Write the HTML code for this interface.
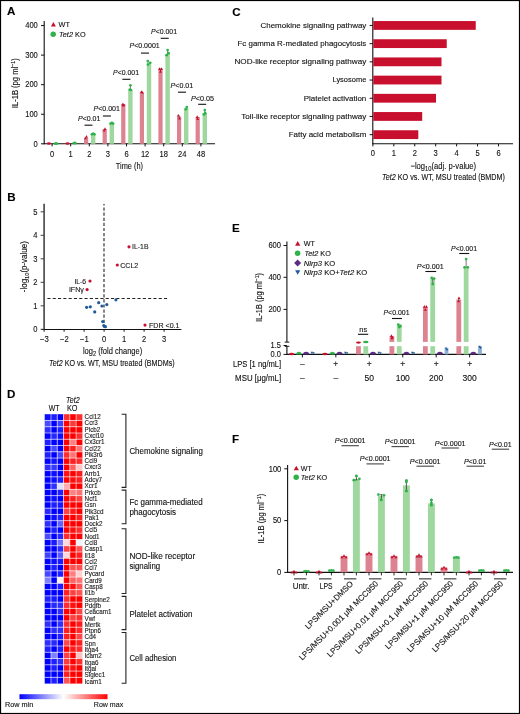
<!DOCTYPE html>
<html><head><meta charset="utf-8"><style>html,body{margin:0;padding:0;background:#fff;}svg{display:block;filter:blur(0.3px);} text{font-family:"Liberation Sans", sans-serif;stroke:#111;stroke-width:0.12px;}</style></head><body>
<svg width="520" height="714" viewBox="0 0 520 714" font-family='"Liberation Sans", sans-serif'>
<rect x="0.00" y="0.00" width="520.00" height="714.00" fill="#fff" />
<text x="6.90" y="15.30" font-size="11.6" text-anchor="start" fill="#000" style="font-weight:bold">A</text>
<text x="232.20" y="15.60" font-size="11.6" text-anchor="start" fill="#000" style="font-weight:bold">C</text>
<text x="7.30" y="200.90" font-size="11.6" text-anchor="start" fill="#000" style="font-weight:bold">B</text>
<text x="232.00" y="232.40" font-size="11.6" text-anchor="start" fill="#000" style="font-weight:bold">E</text>
<text x="6.90" y="398.20" font-size="11.6" text-anchor="start" fill="#000" style="font-weight:bold">D</text>
<text x="232.00" y="443.20" font-size="11.6" text-anchor="start" fill="#000" style="font-weight:bold">F</text>
<line x1="44.20" y1="21.00" x2="44.20" y2="144.30" stroke="#111" stroke-width="1.1" />
<line x1="43.70" y1="143.80" x2="215.00" y2="143.80" stroke="#111" stroke-width="1.1" />
<line x1="41.00" y1="143.80" x2="44.20" y2="143.80" stroke="#111" stroke-width="1.0" />
<text x="37.80" y="146.55" font-size="8.5" text-anchor="end" fill="#111" textLength="4.20" lengthAdjust="spacingAndGlyphs">0</text>
<line x1="41.00" y1="114.24" x2="44.20" y2="114.24" stroke="#111" stroke-width="1.0" />
<text x="37.80" y="116.99" font-size="8.5" text-anchor="end" fill="#111" textLength="12.60" lengthAdjust="spacingAndGlyphs">100</text>
<line x1="41.00" y1="84.68" x2="44.20" y2="84.68" stroke="#111" stroke-width="1.0" />
<text x="37.80" y="87.43" font-size="8.5" text-anchor="end" fill="#111" textLength="12.60" lengthAdjust="spacingAndGlyphs">200</text>
<line x1="41.00" y1="55.12" x2="44.20" y2="55.12" stroke="#111" stroke-width="1.0" />
<text x="37.80" y="57.87" font-size="8.5" text-anchor="end" fill="#111" textLength="12.60" lengthAdjust="spacingAndGlyphs">300</text>
<line x1="41.00" y1="25.56" x2="44.20" y2="25.56" stroke="#111" stroke-width="1.0" />
<text x="37.80" y="28.31" font-size="8.5" text-anchor="end" fill="#111" textLength="12.60" lengthAdjust="spacingAndGlyphs">400</text>
<line x1="52.10" y1="143.80" x2="52.10" y2="146.40" stroke="#111" stroke-width="1.0" />
<text x="52.10" y="156.50" font-size="8.5" text-anchor="middle" fill="#111" textLength="4.20" lengthAdjust="spacingAndGlyphs">0</text>
<ellipse cx="48.90" cy="143.50" rx="2.0" ry="1.3" fill="#c8102e"/>
<ellipse cx="56.00" cy="143.40" rx="2.2" ry="1.5" fill="#2fb24a"/>
<line x1="70.70" y1="143.80" x2="70.70" y2="146.40" stroke="#111" stroke-width="1.0" />
<text x="70.70" y="156.50" font-size="8.5" text-anchor="middle" fill="#111" textLength="4.20" lengthAdjust="spacingAndGlyphs">1</text>
<ellipse cx="67.50" cy="143.50" rx="2.0" ry="1.3" fill="#c8102e"/>
<ellipse cx="74.60" cy="143.10" rx="2.2" ry="1.5" fill="#2fb24a"/>
<line x1="89.30" y1="143.80" x2="89.30" y2="146.40" stroke="#111" stroke-width="1.0" />
<text x="89.30" y="156.50" font-size="8.5" text-anchor="middle" fill="#111" textLength="4.20" lengthAdjust="spacingAndGlyphs">2</text>
<rect x="84.00" y="137.70" width="4.20" height="6.10" fill="#dd8291" />
<rect x="91.00" y="134.20" width="4.40" height="9.60" fill="#9fd89f" />
<polygon points="85.05,137.71 87.95,137.71 86.50,135.09" fill="#c8102e"/>
<polygon points="84.05,139.31 86.95,139.31 85.50,136.69" fill="#c8102e"/>
<circle cx="91.90" cy="134.30" r="1.35" fill="#2fb24a"/>
<circle cx="93.20" cy="133.60" r="1.35" fill="#2fb24a"/>
<circle cx="94.50" cy="134.30" r="1.35" fill="#2fb24a"/>
<line x1="107.90" y1="143.80" x2="107.90" y2="146.40" stroke="#111" stroke-width="1.0" />
<text x="107.90" y="156.50" font-size="8.5" text-anchor="middle" fill="#111" textLength="4.20" lengthAdjust="spacingAndGlyphs">3</text>
<rect x="102.60" y="129.00" width="4.20" height="14.80" fill="#dd8291" />
<rect x="109.60" y="123.80" width="4.40" height="20.00" fill="#9fd89f" />
<polygon points="103.55,129.91 106.45,129.91 105.00,127.29" fill="#c8102e"/>
<polygon points="102.75,131.61 105.65,131.61 104.20,129.00" fill="#c8102e"/>
<circle cx="110.50" cy="123.60" r="1.35" fill="#2fb24a"/>
<circle cx="111.80" cy="122.90" r="1.35" fill="#2fb24a"/>
<circle cx="113.10" cy="123.60" r="1.35" fill="#2fb24a"/>
<line x1="126.50" y1="143.80" x2="126.50" y2="146.40" stroke="#111" stroke-width="1.0" />
<text x="126.50" y="156.50" font-size="8.5" text-anchor="middle" fill="#111" textLength="4.20" lengthAdjust="spacingAndGlyphs">6</text>
<rect x="121.20" y="104.20" width="4.20" height="39.60" fill="#dd8291" />
<rect x="128.20" y="89.80" width="4.40" height="54.00" fill="#9fd89f" />
<line x1="130.40" y1="85.30" x2="130.40" y2="90.00" stroke="#444" stroke-width="0.7" />
<polygon points="121.35,105.31 124.25,105.31 122.80,102.69" fill="#c8102e"/>
<polygon points="122.35,105.91 125.25,105.91 123.80,103.29" fill="#c8102e"/>
<polygon points="121.85,106.61 124.75,106.61 123.30,103.99" fill="#c8102e"/>
<circle cx="130.40" cy="85.30" r="1.35" fill="#2fb24a"/>
<circle cx="129.80" cy="89.60" r="1.35" fill="#2fb24a"/>
<circle cx="131.00" cy="90.00" r="1.35" fill="#2fb24a"/>
<line x1="145.10" y1="143.80" x2="145.10" y2="146.40" stroke="#111" stroke-width="1.0" />
<text x="145.10" y="156.50" font-size="8.5" text-anchor="middle" fill="#111" textLength="8.40" lengthAdjust="spacingAndGlyphs">12</text>
<rect x="139.80" y="92.70" width="4.20" height="51.10" fill="#dd8291" />
<rect x="146.80" y="62.10" width="4.40" height="81.70" fill="#9fd89f" />
<polygon points="139.95,92.91 142.85,92.91 141.40,90.29" fill="#c8102e"/>
<polygon points="140.95,93.51 143.85,93.51 142.40,90.89" fill="#c8102e"/>
<circle cx="147.80" cy="61.00" r="1.35" fill="#2fb24a"/>
<circle cx="150.20" cy="62.80" r="1.35" fill="#2fb24a"/>
<circle cx="148.00" cy="64.60" r="1.35" fill="#2fb24a"/>
<line x1="163.70" y1="143.80" x2="163.70" y2="146.40" stroke="#111" stroke-width="1.0" />
<text x="163.70" y="156.50" font-size="8.5" text-anchor="middle" fill="#111" textLength="8.40" lengthAdjust="spacingAndGlyphs">18</text>
<rect x="158.40" y="69.00" width="4.20" height="74.80" fill="#dd8291" />
<rect x="165.40" y="54.00" width="4.40" height="89.80" fill="#9fd89f" />
<line x1="160.50" y1="68.60" x2="160.50" y2="71.40" stroke="#333" stroke-width="0.7" />
<line x1="167.60" y1="50.00" x2="167.60" y2="55.00" stroke="#444" stroke-width="0.7" />
<polygon points="158.05,69.91 160.95,69.91 159.50,67.29" fill="#c8102e"/>
<polygon points="160.05,69.91 162.95,69.91 161.50,67.29" fill="#c8102e"/>
<polygon points="159.05,72.71 161.95,72.71 160.50,70.09" fill="#c8102e"/>
<circle cx="167.60" cy="50.00" r="1.35" fill="#2fb24a"/>
<circle cx="168.60" cy="53.20" r="1.35" fill="#2fb24a"/>
<circle cx="166.60" cy="55.20" r="1.35" fill="#2fb24a"/>
<line x1="182.30" y1="143.80" x2="182.30" y2="146.40" stroke="#111" stroke-width="1.0" />
<text x="182.30" y="156.50" font-size="8.5" text-anchor="middle" fill="#111" textLength="8.40" lengthAdjust="spacingAndGlyphs">24</text>
<rect x="177.00" y="116.50" width="4.20" height="27.30" fill="#dd8291" />
<rect x="184.00" y="108.00" width="4.40" height="35.80" fill="#9fd89f" />
<line x1="179.10" y1="115.30" x2="179.10" y2="118.20" stroke="#333" stroke-width="0.7" />
<polygon points="176.85,116.61 179.75,116.61 178.30,113.99" fill="#c8102e"/>
<polygon points="178.05,119.51 180.95,119.51 179.50,116.89" fill="#c8102e"/>
<circle cx="186.80" cy="107.10" r="1.35" fill="#2fb24a"/>
<circle cx="185.90" cy="109.30" r="1.35" fill="#2fb24a"/>
<line x1="200.90" y1="143.80" x2="200.90" y2="146.40" stroke="#111" stroke-width="1.0" />
<text x="200.90" y="156.50" font-size="8.5" text-anchor="middle" fill="#111" textLength="8.40" lengthAdjust="spacingAndGlyphs">48</text>
<rect x="195.60" y="117.00" width="4.20" height="26.80" fill="#dd8291" />
<rect x="202.60" y="113.00" width="4.40" height="30.80" fill="#9fd89f" />
<line x1="204.80" y1="110.10" x2="204.80" y2="114.00" stroke="#444" stroke-width="0.7" />
<polygon points="195.75,117.91 198.65,117.91 197.20,115.29" fill="#c8102e"/>
<polygon points="196.25,119.91 199.15,119.91 197.70,117.29" fill="#c8102e"/>
<circle cx="204.80" cy="110.10" r="1.35" fill="#2fb24a"/>
<circle cx="205.20" cy="113.20" r="1.35" fill="#2fb24a"/>
<circle cx="203.90" cy="114.40" r="1.35" fill="#2fb24a"/>
<text x="129.40" y="169.30" font-size="9.8" text-anchor="middle" fill="#111" textLength="27.20" lengthAdjust="spacingAndGlyphs">Time (h)</text>
<text transform="translate(18.0,83.2) rotate(-90)" font-size="8.8" text-anchor="middle" fill="#111" textLength="50" lengthAdjust="spacingAndGlyphs">IL-1B (pg ml<tspan font-size="6.2" dy="-3.2">−1</tspan><tspan dy="3.2">)</tspan></text>
<text x="89.20" y="121.00" font-size="7.7" text-anchor="middle" fill="#111" textLength="22.50" lengthAdjust="spacingAndGlyphs"><tspan font-style="italic">P</tspan>&lt;0.01</text>
<line x1="84.50" y1="125.20" x2="92.50" y2="125.20" stroke="#111" stroke-width="1.1" />
<text x="106.70" y="111.40" font-size="7.7" text-anchor="middle" fill="#111" textLength="26.50" lengthAdjust="spacingAndGlyphs"><tspan font-style="italic">P</tspan>&lt;0.001</text>
<line x1="102.90" y1="116.00" x2="110.90" y2="116.00" stroke="#111" stroke-width="1.1" />
<text x="126.00" y="74.60" font-size="7.7" text-anchor="middle" fill="#111" textLength="26.00" lengthAdjust="spacingAndGlyphs"><tspan font-style="italic">P</tspan>&lt;0.001</text>
<line x1="122.40" y1="79.30" x2="130.40" y2="79.30" stroke="#111" stroke-width="1.1" />
<text x="144.60" y="48.00" font-size="7.7" text-anchor="middle" fill="#111" textLength="30.30" lengthAdjust="spacingAndGlyphs"><tspan font-style="italic">P</tspan>&lt;0.0001</text>
<line x1="141.00" y1="53.10" x2="149.00" y2="53.10" stroke="#111" stroke-width="1.1" />
<text x="164.00" y="34.00" font-size="7.7" text-anchor="middle" fill="#111" textLength="26.00" lengthAdjust="spacingAndGlyphs"><tspan font-style="italic">P</tspan>&lt;0.001</text>
<line x1="160.70" y1="38.30" x2="168.70" y2="38.30" stroke="#111" stroke-width="1.1" />
<text x="181.90" y="87.50" font-size="7.7" text-anchor="middle" fill="#111" textLength="22.80" lengthAdjust="spacingAndGlyphs"><tspan font-style="italic">P</tspan>&lt;0.01</text>
<line x1="178.00" y1="92.20" x2="186.00" y2="92.20" stroke="#111" stroke-width="1.1" />
<text x="202.50" y="100.70" font-size="7.7" text-anchor="middle" fill="#111" textLength="23.00" lengthAdjust="spacingAndGlyphs"><tspan font-style="italic">P</tspan>&lt;0.05</text>
<line x1="198.20" y1="104.30" x2="206.20" y2="104.30" stroke="#111" stroke-width="1.1" />
<polygon points="50.90,26.45 55.90,26.45 53.40,21.95" fill="#c8102e"/>
<text x="58.60" y="27.30" font-size="7.4" text-anchor="start" fill="#111" textLength="11.40" lengthAdjust="spacingAndGlyphs">WT</text>
<circle cx="53.20" cy="34.20" r="2.70" fill="#2fb24a"/>
<text x="59.0" y="36.9" font-size="7.4" fill="#111" textLength="26.6" lengthAdjust="spacingAndGlyphs"><tspan font-style="italic">Tet2</tspan> KO</text>
<line x1="372.80" y1="17.50" x2="372.80" y2="144.30" stroke="#111" stroke-width="1.1" />
<line x1="372.30" y1="143.80" x2="513.00" y2="143.80" stroke="#111" stroke-width="1.1" />
<rect x="373.30" y="21.05" width="102.45" height="8.80" fill="#c8102e" />
<line x1="369.60" y1="25.45" x2="372.80" y2="25.45" stroke="#111" stroke-width="1.0" />
<text x="366.30" y="27.75" font-size="8.1" text-anchor="end" fill="#111" textLength="105.80" lengthAdjust="spacingAndGlyphs">Chemokine signaling pathway</text>
<rect x="373.30" y="39.25" width="73.45" height="8.80" fill="#c8102e" />
<line x1="369.60" y1="43.65" x2="372.80" y2="43.65" stroke="#111" stroke-width="1.0" />
<text x="366.30" y="45.95" font-size="8.1" text-anchor="end" fill="#111" textLength="128.80" lengthAdjust="spacingAndGlyphs">Fc gamma R-mediated phagocytosis</text>
<rect x="373.30" y="57.45" width="68.20" height="8.80" fill="#c8102e" />
<line x1="369.60" y1="61.85" x2="372.80" y2="61.85" stroke="#111" stroke-width="1.0" />
<text x="366.30" y="64.15" font-size="8.1" text-anchor="end" fill="#111" textLength="131.80" lengthAdjust="spacingAndGlyphs">NOD-like receptor signaling pathway</text>
<rect x="373.30" y="75.65" width="68.20" height="8.80" fill="#c8102e" />
<line x1="369.60" y1="80.05" x2="372.80" y2="80.05" stroke="#111" stroke-width="1.0" />
<text x="366.30" y="82.35" font-size="8.1" text-anchor="end" fill="#111" textLength="33.80" lengthAdjust="spacingAndGlyphs">Lysosome</text>
<rect x="373.30" y="93.85" width="62.70" height="8.80" fill="#c8102e" />
<line x1="369.60" y1="98.25" x2="372.80" y2="98.25" stroke="#111" stroke-width="1.0" />
<text x="366.30" y="100.55" font-size="8.1" text-anchor="end" fill="#111" textLength="62.55" lengthAdjust="spacingAndGlyphs">Platelet activation</text>
<rect x="373.30" y="112.05" width="48.90" height="8.80" fill="#c8102e" />
<line x1="369.60" y1="116.45" x2="372.80" y2="116.45" stroke="#111" stroke-width="1.0" />
<text x="366.30" y="118.75" font-size="8.1" text-anchor="end" fill="#111" textLength="125.05" lengthAdjust="spacingAndGlyphs">Toll-like receptor signaling pathway</text>
<rect x="373.30" y="130.25" width="45.00" height="8.80" fill="#c8102e" />
<line x1="369.60" y1="134.65" x2="372.80" y2="134.65" stroke="#111" stroke-width="1.0" />
<text x="366.30" y="136.95" font-size="8.1" text-anchor="end" fill="#111" textLength="77.55" lengthAdjust="spacingAndGlyphs">Fatty acid metabolism</text>
<line x1="372.90" y1="143.80" x2="372.90" y2="146.40" stroke="#111" stroke-width="1.0" />
<text x="372.90" y="155.90" font-size="8.5" text-anchor="middle" fill="#111" textLength="4.20" lengthAdjust="spacingAndGlyphs">0</text>
<line x1="393.83" y1="143.80" x2="393.83" y2="146.40" stroke="#111" stroke-width="1.0" />
<text x="393.83" y="155.90" font-size="8.5" text-anchor="middle" fill="#111" textLength="4.20" lengthAdjust="spacingAndGlyphs">1</text>
<line x1="414.76" y1="143.80" x2="414.76" y2="146.40" stroke="#111" stroke-width="1.0" />
<text x="414.76" y="155.90" font-size="8.5" text-anchor="middle" fill="#111" textLength="4.20" lengthAdjust="spacingAndGlyphs">2</text>
<line x1="435.69" y1="143.80" x2="435.69" y2="146.40" stroke="#111" stroke-width="1.0" />
<text x="435.69" y="155.90" font-size="8.5" text-anchor="middle" fill="#111" textLength="4.20" lengthAdjust="spacingAndGlyphs">3</text>
<line x1="456.62" y1="143.80" x2="456.62" y2="146.40" stroke="#111" stroke-width="1.0" />
<text x="456.62" y="155.90" font-size="8.5" text-anchor="middle" fill="#111" textLength="4.20" lengthAdjust="spacingAndGlyphs">4</text>
<line x1="477.55" y1="143.80" x2="477.55" y2="146.40" stroke="#111" stroke-width="1.0" />
<text x="477.55" y="155.90" font-size="8.5" text-anchor="middle" fill="#111" textLength="4.20" lengthAdjust="spacingAndGlyphs">5</text>
<line x1="498.48" y1="143.80" x2="498.48" y2="146.40" stroke="#111" stroke-width="1.0" />
<text x="498.48" y="155.90" font-size="8.5" text-anchor="middle" fill="#111" textLength="4.20" lengthAdjust="spacingAndGlyphs">6</text>
<text x="443.3" y="168.8" font-size="9.0" text-anchor="middle" fill="#111" textLength="65.7" lengthAdjust="spacingAndGlyphs">−log<tspan font-size="6.8" dy="2">10</tspan><tspan dy="-2">(adj. p-value)</tspan></text>
<text x="443.5" y="179.9" font-size="9.1" text-anchor="middle" fill="#111" textLength="122.9" lengthAdjust="spacingAndGlyphs"><tspan font-style="italic">Tet2</tspan> KO vs. WT, MSU treated (BMDM)</text>
<line x1="44.10" y1="203.80" x2="44.10" y2="329.80" stroke="#444" stroke-width="1.6" />
<line x1="41.20" y1="329.50" x2="181.40" y2="329.50" stroke="#111" stroke-width="1.1" />
<line x1="40.60" y1="329.30" x2="44.10" y2="329.30" stroke="#444" stroke-width="1.0" />
<text x="37.40" y="332.05" font-size="8.5" text-anchor="end" fill="#111" textLength="4.20" lengthAdjust="spacingAndGlyphs">0</text>
<line x1="40.60" y1="305.80" x2="44.10" y2="305.80" stroke="#444" stroke-width="1.0" />
<text x="37.40" y="308.55" font-size="8.5" text-anchor="end" fill="#111" textLength="4.20" lengthAdjust="spacingAndGlyphs">1</text>
<line x1="40.60" y1="282.30" x2="44.10" y2="282.30" stroke="#444" stroke-width="1.0" />
<text x="37.40" y="285.05" font-size="8.5" text-anchor="end" fill="#111" textLength="4.20" lengthAdjust="spacingAndGlyphs">2</text>
<line x1="40.60" y1="258.80" x2="44.10" y2="258.80" stroke="#444" stroke-width="1.0" />
<text x="37.40" y="261.55" font-size="8.5" text-anchor="end" fill="#111" textLength="4.20" lengthAdjust="spacingAndGlyphs">3</text>
<line x1="40.60" y1="235.30" x2="44.10" y2="235.30" stroke="#444" stroke-width="1.0" />
<text x="37.40" y="238.05" font-size="8.5" text-anchor="end" fill="#111" textLength="4.20" lengthAdjust="spacingAndGlyphs">4</text>
<line x1="40.60" y1="211.80" x2="44.10" y2="211.80" stroke="#444" stroke-width="1.0" />
<text x="37.40" y="214.55" font-size="8.5" text-anchor="end" fill="#111" textLength="4.20" lengthAdjust="spacingAndGlyphs">5</text>
<line x1="44.10" y1="329.30" x2="44.10" y2="331.70" stroke="#111" stroke-width="1.0" />
<text x="44.30" y="342.20" font-size="8.5" text-anchor="middle" fill="#111" textLength="8.80" lengthAdjust="spacingAndGlyphs">−3</text>
<line x1="64.10" y1="329.30" x2="64.10" y2="331.70" stroke="#111" stroke-width="1.0" />
<text x="64.30" y="342.20" font-size="8.5" text-anchor="middle" fill="#111" textLength="8.80" lengthAdjust="spacingAndGlyphs">−2</text>
<line x1="84.10" y1="329.30" x2="84.10" y2="331.70" stroke="#111" stroke-width="1.0" />
<text x="84.30" y="342.20" font-size="8.5" text-anchor="middle" fill="#111" textLength="8.80" lengthAdjust="spacingAndGlyphs">−1</text>
<line x1="104.10" y1="329.30" x2="104.10" y2="331.70" stroke="#111" stroke-width="1.0" />
<text x="104.10" y="342.20" font-size="8.5" text-anchor="middle" fill="#111" textLength="4.20" lengthAdjust="spacingAndGlyphs">0</text>
<line x1="124.10" y1="329.30" x2="124.10" y2="331.70" stroke="#111" stroke-width="1.0" />
<text x="124.10" y="342.20" font-size="8.5" text-anchor="middle" fill="#111" textLength="4.20" lengthAdjust="spacingAndGlyphs">1</text>
<line x1="144.10" y1="329.30" x2="144.10" y2="331.70" stroke="#111" stroke-width="1.0" />
<text x="144.10" y="342.20" font-size="8.5" text-anchor="middle" fill="#111" textLength="4.20" lengthAdjust="spacingAndGlyphs">2</text>
<line x1="164.10" y1="329.30" x2="164.10" y2="331.70" stroke="#111" stroke-width="1.0" />
<text x="164.10" y="342.20" font-size="8.5" text-anchor="middle" fill="#111" textLength="4.20" lengthAdjust="spacingAndGlyphs">3</text>
<line x1="104.00" y1="203.90" x2="104.00" y2="329.30" stroke="#222" stroke-width="1.1" stroke-dasharray="3.2 1.9" stroke-dashoffset="1.5"/>
<line x1="47.40" y1="298.50" x2="168.70" y2="298.50" stroke="#222" stroke-width="1.1" stroke-dasharray="3.1 2.2"/>
<circle cx="129.00" cy="246.80" r="1.60" fill="#c8102e"/>
<circle cx="117.30" cy="265.00" r="1.60" fill="#c8102e"/>
<circle cx="90.00" cy="281.00" r="1.60" fill="#c8102e"/>
<circle cx="87.10" cy="289.60" r="1.60" fill="#c8102e"/>
<circle cx="145.00" cy="325.10" r="1.60" fill="#c8102e"/>
<circle cx="86.60" cy="307.30" r="1.60" fill="#1f5b98"/>
<circle cx="90.30" cy="306.80" r="1.60" fill="#1f5b98"/>
<circle cx="94.70" cy="311.90" r="1.60" fill="#1f5b98"/>
<circle cx="98.70" cy="302.70" r="1.60" fill="#1f5b98"/>
<circle cx="101.90" cy="306.00" r="1.60" fill="#1f5b98"/>
<circle cx="106.80" cy="304.60" r="1.60" fill="#1f5b98"/>
<circle cx="115.90" cy="299.80" r="1.60" fill="#1f5b98"/>
<circle cx="102.70" cy="321.60" r="1.60" fill="#1f5b98"/>
<circle cx="103.80" cy="325.60" r="1.60" fill="#1f5b98"/>
<circle cx="105.40" cy="326.70" r="1.60" fill="#1f5b98"/>
<text x="132.00" y="249.40" font-size="7.5" text-anchor="start" fill="#222" textLength="16.50" lengthAdjust="spacingAndGlyphs">IL-1B</text>
<text x="120.20" y="267.60" font-size="7.5" text-anchor="start" fill="#222" textLength="18.10" lengthAdjust="spacingAndGlyphs">CCL2</text>
<text x="86.20" y="283.60" font-size="7.5" text-anchor="end" fill="#222" textLength="11.80" lengthAdjust="spacingAndGlyphs">IL-6</text>
<text x="83.90" y="292.30" font-size="7.5" text-anchor="end" fill="#222" textLength="15.00" lengthAdjust="spacingAndGlyphs">IFNγ</text>
<text x="149.00" y="327.70" font-size="7.5" text-anchor="start" fill="#222" textLength="30.50" lengthAdjust="spacingAndGlyphs">FDR &lt;0.1</text>
<text x="112.6" y="354.0" font-size="9.1" text-anchor="middle" fill="#111" textLength="59.3" lengthAdjust="spacingAndGlyphs">log<tspan font-size="6.8" dy="2">2</tspan><tspan dy="-2"> (fold change)</tspan></text>
<text x="111.8" y="365.7" font-size="9.1" text-anchor="middle" fill="#111" textLength="125.6" lengthAdjust="spacingAndGlyphs"><tspan font-style="italic">Tet2</tspan> KO vs. WT, MSU treated (BMDMs)</text>
<text transform="translate(26.7,266.7) rotate(-90)" font-size="8.2" text-anchor="middle" fill="#111" textLength="51" lengthAdjust="spacingAndGlyphs">-log<tspan font-size="5.8" dy="2">10</tspan><tspan dy="-2">(p-value)</tspan></text>
<rect x="44.70" y="414.20" width="6.28" height="6.26" fill="rgb(13,13,255)" />
<rect x="50.98" y="414.20" width="6.28" height="6.26" fill="rgb(31,31,255)" />
<rect x="57.26" y="414.20" width="6.28" height="6.26" fill="rgb(0,0,255)" />
<rect x="63.54" y="414.20" width="6.28" height="6.26" fill="rgb(255,46,46)" />
<rect x="69.82" y="414.20" width="6.28" height="6.26" fill="rgb(255,0,0)" />
<rect x="76.10" y="414.20" width="6.28" height="6.26" fill="rgb(255,46,46)" />
<rect x="44.70" y="420.46" width="6.28" height="6.26" fill="rgb(76,76,255)" />
<rect x="50.98" y="420.46" width="6.28" height="6.26" fill="rgb(0,0,255)" />
<rect x="57.26" y="420.46" width="6.28" height="6.26" fill="rgb(64,64,255)" />
<rect x="63.54" y="420.46" width="6.28" height="6.26" fill="rgb(255,0,0)" />
<rect x="69.82" y="420.46" width="6.28" height="6.26" fill="rgb(255,56,56)" />
<rect x="76.10" y="420.46" width="6.28" height="6.26" fill="rgb(255,0,0)" />
<rect x="44.70" y="426.73" width="6.28" height="6.26" fill="rgb(46,46,255)" />
<rect x="50.98" y="426.73" width="6.28" height="6.26" fill="rgb(0,0,255)" />
<rect x="57.26" y="426.73" width="6.28" height="6.26" fill="rgb(31,31,255)" />
<rect x="63.54" y="426.73" width="6.28" height="6.26" fill="rgb(255,0,0)" />
<rect x="69.82" y="426.73" width="6.28" height="6.26" fill="rgb(255,0,0)" />
<rect x="76.10" y="426.73" width="6.28" height="6.26" fill="rgb(255,0,0)" />
<rect x="44.70" y="433.00" width="6.28" height="6.26" fill="rgb(0,0,255)" />
<rect x="50.98" y="433.00" width="6.28" height="6.26" fill="rgb(38,38,255)" />
<rect x="57.26" y="433.00" width="6.28" height="6.26" fill="rgb(15,15,255)" />
<rect x="63.54" y="433.00" width="6.28" height="6.26" fill="rgb(255,0,0)" />
<rect x="69.82" y="433.00" width="6.28" height="6.26" fill="rgb(255,0,0)" />
<rect x="76.10" y="433.00" width="6.28" height="6.26" fill="rgb(255,46,46)" />
<rect x="44.70" y="439.26" width="6.28" height="6.26" fill="rgb(31,31,255)" />
<rect x="50.98" y="439.26" width="6.28" height="6.26" fill="rgb(0,0,255)" />
<rect x="57.26" y="439.26" width="6.28" height="6.26" fill="rgb(0,0,255)" />
<rect x="63.54" y="439.26" width="6.28" height="6.26" fill="rgb(255,0,0)" />
<rect x="69.82" y="439.26" width="6.28" height="6.26" fill="rgb(255,128,128)" />
<rect x="76.10" y="439.26" width="6.28" height="6.26" fill="rgb(255,0,0)" />
<rect x="44.70" y="445.52" width="6.28" height="6.26" fill="rgb(0,0,255)" />
<rect x="50.98" y="445.52" width="6.28" height="6.26" fill="rgb(71,71,255)" />
<rect x="57.26" y="445.52" width="6.28" height="6.26" fill="rgb(0,0,255)" />
<rect x="63.54" y="445.52" width="6.28" height="6.26" fill="rgb(255,0,0)" />
<rect x="69.82" y="445.52" width="6.28" height="6.26" fill="rgb(255,31,31)" />
<rect x="76.10" y="445.52" width="6.28" height="6.26" fill="rgb(255,115,115)" />
<rect x="44.70" y="451.79" width="6.28" height="6.26" fill="rgb(31,31,255)" />
<rect x="50.98" y="451.79" width="6.28" height="6.26" fill="rgb(0,0,255)" />
<rect x="57.26" y="451.79" width="6.28" height="6.26" fill="rgb(71,71,255)" />
<rect x="63.54" y="451.79" width="6.28" height="6.26" fill="rgb(255,46,46)" />
<rect x="69.82" y="451.79" width="6.28" height="6.26" fill="rgb(255,115,115)" />
<rect x="76.10" y="451.79" width="6.28" height="6.26" fill="rgb(255,0,0)" />
<rect x="44.70" y="458.06" width="6.28" height="6.26" fill="rgb(0,0,255)" />
<rect x="50.98" y="458.06" width="6.28" height="6.26" fill="rgb(20,20,255)" />
<rect x="57.26" y="458.06" width="6.28" height="6.26" fill="rgb(0,0,255)" />
<rect x="63.54" y="458.06" width="6.28" height="6.26" fill="rgb(255,0,0)" />
<rect x="69.82" y="458.06" width="6.28" height="6.26" fill="rgb(255,31,31)" />
<rect x="76.10" y="458.06" width="6.28" height="6.26" fill="rgb(255,46,46)" />
<rect x="44.70" y="464.32" width="6.28" height="6.26" fill="rgb(46,46,255)" />
<rect x="50.98" y="464.32" width="6.28" height="6.26" fill="rgb(56,56,255)" />
<rect x="57.26" y="464.32" width="6.28" height="6.26" fill="rgb(0,0,255)" />
<rect x="63.54" y="464.32" width="6.28" height="6.26" fill="rgb(255,0,0)" />
<rect x="69.82" y="464.32" width="6.28" height="6.26" fill="rgb(255,97,97)" />
<rect x="76.10" y="464.32" width="6.28" height="6.26" fill="rgb(255,199,199)" />
<rect x="44.70" y="470.58" width="6.28" height="6.26" fill="rgb(0,0,255)" />
<rect x="50.98" y="470.58" width="6.28" height="6.26" fill="rgb(13,13,255)" />
<rect x="57.26" y="470.58" width="6.28" height="6.26" fill="rgb(0,0,255)" />
<rect x="63.54" y="470.58" width="6.28" height="6.26" fill="rgb(255,15,15)" />
<rect x="69.82" y="470.58" width="6.28" height="6.26" fill="rgb(255,0,0)" />
<rect x="76.10" y="470.58" width="6.28" height="6.26" fill="rgb(255,26,26)" />
<rect x="44.70" y="476.85" width="6.28" height="6.26" fill="rgb(0,0,255)" />
<rect x="50.98" y="476.85" width="6.28" height="6.26" fill="rgb(13,13,255)" />
<rect x="57.26" y="476.85" width="6.28" height="6.26" fill="rgb(31,31,255)" />
<rect x="63.54" y="476.85" width="6.28" height="6.26" fill="rgb(255,0,0)" />
<rect x="69.82" y="476.85" width="6.28" height="6.26" fill="rgb(255,15,15)" />
<rect x="76.10" y="476.85" width="6.28" height="6.26" fill="rgb(255,31,31)" />
<rect x="44.70" y="483.12" width="6.28" height="6.26" fill="rgb(0,0,255)" />
<rect x="50.98" y="483.12" width="6.28" height="6.26" fill="rgb(46,46,255)" />
<rect x="57.26" y="483.12" width="6.28" height="6.26" fill="rgb(224,224,255)" />
<rect x="63.54" y="483.12" width="6.28" height="6.26" fill="rgb(255,173,173)" />
<rect x="69.82" y="483.12" width="6.28" height="6.26" fill="rgb(255,0,0)" />
<rect x="76.10" y="483.12" width="6.28" height="6.26" fill="rgb(255,0,0)" />
<rect x="44.70" y="489.38" width="6.28" height="6.26" fill="rgb(0,0,255)" />
<rect x="50.98" y="489.38" width="6.28" height="6.26" fill="rgb(0,0,255)" />
<rect x="57.26" y="489.38" width="6.28" height="6.26" fill="rgb(31,31,255)" />
<rect x="63.54" y="489.38" width="6.28" height="6.26" fill="rgb(255,0,0)" />
<rect x="69.82" y="489.38" width="6.28" height="6.26" fill="rgb(255,128,128)" />
<rect x="76.10" y="489.38" width="6.28" height="6.26" fill="rgb(255,115,115)" />
<rect x="44.70" y="495.64" width="6.28" height="6.26" fill="rgb(0,0,255)" />
<rect x="50.98" y="495.64" width="6.28" height="6.26" fill="rgb(15,15,255)" />
<rect x="57.26" y="495.64" width="6.28" height="6.26" fill="rgb(0,0,255)" />
<rect x="63.54" y="495.64" width="6.28" height="6.26" fill="rgb(255,0,0)" />
<rect x="69.82" y="495.64" width="6.28" height="6.26" fill="rgb(255,31,31)" />
<rect x="76.10" y="495.64" width="6.28" height="6.26" fill="rgb(255,64,64)" />
<rect x="44.70" y="501.91" width="6.28" height="6.26" fill="rgb(0,0,255)" />
<rect x="50.98" y="501.91" width="6.28" height="6.26" fill="rgb(31,31,255)" />
<rect x="57.26" y="501.91" width="6.28" height="6.26" fill="rgb(26,26,255)" />
<rect x="63.54" y="501.91" width="6.28" height="6.26" fill="rgb(255,0,0)" />
<rect x="69.82" y="501.91" width="6.28" height="6.26" fill="rgb(255,0,0)" />
<rect x="76.10" y="501.91" width="6.28" height="6.26" fill="rgb(255,0,0)" />
<rect x="44.70" y="508.17" width="6.28" height="6.26" fill="rgb(41,41,255)" />
<rect x="50.98" y="508.17" width="6.28" height="6.26" fill="rgb(0,0,255)" />
<rect x="57.26" y="508.17" width="6.28" height="6.26" fill="rgb(0,0,255)" />
<rect x="63.54" y="508.17" width="6.28" height="6.26" fill="rgb(255,64,64)" />
<rect x="69.82" y="508.17" width="6.28" height="6.26" fill="rgb(255,26,26)" />
<rect x="76.10" y="508.17" width="6.28" height="6.26" fill="rgb(255,0,0)" />
<rect x="44.70" y="514.44" width="6.28" height="6.26" fill="rgb(0,0,255)" />
<rect x="50.98" y="514.44" width="6.28" height="6.26" fill="rgb(15,15,255)" />
<rect x="57.26" y="514.44" width="6.28" height="6.26" fill="rgb(31,31,255)" />
<rect x="63.54" y="514.44" width="6.28" height="6.26" fill="rgb(255,0,0)" />
<rect x="69.82" y="514.44" width="6.28" height="6.26" fill="rgb(255,0,0)" />
<rect x="76.10" y="514.44" width="6.28" height="6.26" fill="rgb(255,31,31)" />
<rect x="44.70" y="520.70" width="6.28" height="6.26" fill="rgb(46,46,255)" />
<rect x="50.98" y="520.70" width="6.28" height="6.26" fill="rgb(0,0,255)" />
<rect x="57.26" y="520.70" width="6.28" height="6.26" fill="rgb(97,97,255)" />
<rect x="63.54" y="520.70" width="6.28" height="6.26" fill="rgb(255,0,0)" />
<rect x="69.82" y="520.70" width="6.28" height="6.26" fill="rgb(255,0,0)" />
<rect x="76.10" y="520.70" width="6.28" height="6.26" fill="rgb(255,0,0)" />
<rect x="44.70" y="526.97" width="6.28" height="6.26" fill="rgb(0,0,255)" />
<rect x="50.98" y="526.97" width="6.28" height="6.26" fill="rgb(31,31,255)" />
<rect x="57.26" y="526.97" width="6.28" height="6.26" fill="rgb(0,0,255)" />
<rect x="63.54" y="526.97" width="6.28" height="6.26" fill="rgb(255,0,0)" />
<rect x="69.82" y="526.97" width="6.28" height="6.26" fill="rgb(255,15,15)" />
<rect x="76.10" y="526.97" width="6.28" height="6.26" fill="rgb(255,46,46)" />
<rect x="44.70" y="533.24" width="6.28" height="6.26" fill="rgb(76,76,255)" />
<rect x="50.98" y="533.24" width="6.28" height="6.26" fill="rgb(0,0,255)" />
<rect x="57.26" y="533.24" width="6.28" height="6.26" fill="rgb(41,41,255)" />
<rect x="63.54" y="533.24" width="6.28" height="6.26" fill="rgb(255,46,46)" />
<rect x="69.82" y="533.24" width="6.28" height="6.26" fill="rgb(255,0,0)" />
<rect x="76.10" y="533.24" width="6.28" height="6.26" fill="rgb(255,0,0)" />
<rect x="44.70" y="539.50" width="6.28" height="6.26" fill="rgb(0,0,255)" />
<rect x="50.98" y="539.50" width="6.28" height="6.26" fill="rgb(26,26,255)" />
<rect x="57.26" y="539.50" width="6.28" height="6.26" fill="rgb(115,115,255)" />
<rect x="63.54" y="539.50" width="6.28" height="6.26" fill="rgb(255,217,217)" />
<rect x="69.82" y="539.50" width="6.28" height="6.26" fill="rgb(255,0,0)" />
<rect x="76.10" y="539.50" width="6.28" height="6.26" fill="rgb(240,240,252)" />
<rect x="44.70" y="545.76" width="6.28" height="6.26" fill="rgb(0,0,255)" />
<rect x="50.98" y="545.76" width="6.28" height="6.26" fill="rgb(0,0,255)" />
<rect x="57.26" y="545.76" width="6.28" height="6.26" fill="rgb(41,41,255)" />
<rect x="63.54" y="545.76" width="6.28" height="6.26" fill="rgb(255,64,64)" />
<rect x="69.82" y="545.76" width="6.28" height="6.26" fill="rgb(255,0,0)" />
<rect x="76.10" y="545.76" width="6.28" height="6.26" fill="rgb(255,82,82)" />
<rect x="44.70" y="552.03" width="6.28" height="6.26" fill="rgb(64,64,255)" />
<rect x="50.98" y="552.03" width="6.28" height="6.26" fill="rgb(0,0,255)" />
<rect x="57.26" y="552.03" width="6.28" height="6.26" fill="rgb(89,89,255)" />
<rect x="63.54" y="552.03" width="6.28" height="6.26" fill="rgb(255,217,217)" />
<rect x="69.82" y="552.03" width="6.28" height="6.26" fill="rgb(255,0,0)" />
<rect x="76.10" y="552.03" width="6.28" height="6.26" fill="rgb(255,31,31)" />
<rect x="44.70" y="558.29" width="6.28" height="6.26" fill="rgb(0,0,255)" />
<rect x="50.98" y="558.29" width="6.28" height="6.26" fill="rgb(15,15,255)" />
<rect x="57.26" y="558.29" width="6.28" height="6.26" fill="rgb(26,26,255)" />
<rect x="63.54" y="558.29" width="6.28" height="6.26" fill="rgb(255,0,0)" />
<rect x="69.82" y="558.29" width="6.28" height="6.26" fill="rgb(255,0,0)" />
<rect x="76.10" y="558.29" width="6.28" height="6.26" fill="rgb(255,0,0)" />
<rect x="44.70" y="564.56" width="6.28" height="6.26" fill="rgb(0,0,255)" />
<rect x="50.98" y="564.56" width="6.28" height="6.26" fill="rgb(31,31,255)" />
<rect x="57.26" y="564.56" width="6.28" height="6.26" fill="rgb(0,0,255)" />
<rect x="63.54" y="564.56" width="6.28" height="6.26" fill="rgb(255,0,0)" />
<rect x="69.82" y="564.56" width="6.28" height="6.26" fill="rgb(255,82,82)" />
<rect x="76.10" y="564.56" width="6.28" height="6.26" fill="rgb(255,82,82)" />
<rect x="44.70" y="570.83" width="6.28" height="6.26" fill="rgb(71,71,255)" />
<rect x="50.98" y="570.83" width="6.28" height="6.26" fill="rgb(0,0,255)" />
<rect x="57.26" y="570.83" width="6.28" height="6.26" fill="rgb(31,31,255)" />
<rect x="63.54" y="570.83" width="6.28" height="6.26" fill="rgb(255,0,0)" />
<rect x="69.82" y="570.83" width="6.28" height="6.26" fill="rgb(255,128,128)" />
<rect x="76.10" y="570.83" width="6.28" height="6.26" fill="rgb(255,209,209)" />
<rect x="44.70" y="577.09" width="6.28" height="6.26" fill="rgb(128,128,255)" />
<rect x="50.98" y="577.09" width="6.28" height="6.26" fill="rgb(0,0,255)" />
<rect x="57.26" y="577.09" width="6.28" height="6.26" fill="rgb(255,240,232)" />
<rect x="63.54" y="577.09" width="6.28" height="6.26" fill="rgb(255,0,0)" />
<rect x="69.82" y="577.09" width="6.28" height="6.26" fill="rgb(255,97,97)" />
<rect x="76.10" y="577.09" width="6.28" height="6.26" fill="rgb(255,115,115)" />
<rect x="44.70" y="583.36" width="6.28" height="6.26" fill="rgb(0,0,255)" />
<rect x="50.98" y="583.36" width="6.28" height="6.26" fill="rgb(0,0,255)" />
<rect x="57.26" y="583.36" width="6.28" height="6.26" fill="rgb(31,31,255)" />
<rect x="63.54" y="583.36" width="6.28" height="6.26" fill="rgb(255,0,0)" />
<rect x="69.82" y="583.36" width="6.28" height="6.26" fill="rgb(255,15,15)" />
<rect x="76.10" y="583.36" width="6.28" height="6.26" fill="rgb(255,82,82)" />
<rect x="44.70" y="589.62" width="6.28" height="6.26" fill="rgb(0,0,255)" />
<rect x="50.98" y="589.62" width="6.28" height="6.26" fill="rgb(0,0,255)" />
<rect x="57.26" y="589.62" width="6.28" height="6.26" fill="rgb(0,0,255)" />
<rect x="63.54" y="589.62" width="6.28" height="6.26" fill="rgb(255,31,31)" />
<rect x="69.82" y="589.62" width="6.28" height="6.26" fill="rgb(255,64,64)" />
<rect x="76.10" y="589.62" width="6.28" height="6.26" fill="rgb(255,82,82)" />
<rect x="44.70" y="595.88" width="6.28" height="6.26" fill="rgb(31,31,255)" />
<rect x="50.98" y="595.88" width="6.28" height="6.26" fill="rgb(26,26,255)" />
<rect x="57.26" y="595.88" width="6.28" height="6.26" fill="rgb(0,0,255)" />
<rect x="63.54" y="595.88" width="6.28" height="6.26" fill="rgb(255,46,46)" />
<rect x="69.82" y="595.88" width="6.28" height="6.26" fill="rgb(255,0,0)" />
<rect x="76.10" y="595.88" width="6.28" height="6.26" fill="rgb(255,0,0)" />
<rect x="44.70" y="602.15" width="6.28" height="6.26" fill="rgb(0,0,255)" />
<rect x="50.98" y="602.15" width="6.28" height="6.26" fill="rgb(41,41,255)" />
<rect x="57.26" y="602.15" width="6.28" height="6.26" fill="rgb(46,46,255)" />
<rect x="63.54" y="602.15" width="6.28" height="6.26" fill="rgb(255,46,46)" />
<rect x="69.82" y="602.15" width="6.28" height="6.26" fill="rgb(255,15,15)" />
<rect x="76.10" y="602.15" width="6.28" height="6.26" fill="rgb(255,0,0)" />
<rect x="44.70" y="608.41" width="6.28" height="6.26" fill="rgb(0,0,255)" />
<rect x="50.98" y="608.41" width="6.28" height="6.26" fill="rgb(0,0,255)" />
<rect x="57.26" y="608.41" width="6.28" height="6.26" fill="rgb(46,46,255)" />
<rect x="63.54" y="608.41" width="6.28" height="6.26" fill="rgb(255,0,0)" />
<rect x="69.82" y="608.41" width="6.28" height="6.26" fill="rgb(255,0,0)" />
<rect x="76.10" y="608.41" width="6.28" height="6.26" fill="rgb(255,71,71)" />
<rect x="44.70" y="614.68" width="6.28" height="6.26" fill="rgb(0,0,255)" />
<rect x="50.98" y="614.68" width="6.28" height="6.26" fill="rgb(0,0,255)" />
<rect x="57.26" y="614.68" width="6.28" height="6.26" fill="rgb(0,0,255)" />
<rect x="63.54" y="614.68" width="6.28" height="6.26" fill="rgb(255,0,0)" />
<rect x="69.82" y="614.68" width="6.28" height="6.26" fill="rgb(255,64,64)" />
<rect x="76.10" y="614.68" width="6.28" height="6.26" fill="rgb(255,46,46)" />
<rect x="44.70" y="620.94" width="6.28" height="6.26" fill="rgb(46,46,255)" />
<rect x="50.98" y="620.94" width="6.28" height="6.26" fill="rgb(0,0,255)" />
<rect x="57.26" y="620.94" width="6.28" height="6.26" fill="rgb(46,46,255)" />
<rect x="63.54" y="620.94" width="6.28" height="6.26" fill="rgb(255,46,46)" />
<rect x="69.82" y="620.94" width="6.28" height="6.26" fill="rgb(255,0,0)" />
<rect x="76.10" y="620.94" width="6.28" height="6.26" fill="rgb(255,26,26)" />
<rect x="44.70" y="627.21" width="6.28" height="6.26" fill="rgb(0,0,255)" />
<rect x="50.98" y="627.21" width="6.28" height="6.26" fill="rgb(46,46,255)" />
<rect x="57.26" y="627.21" width="6.28" height="6.26" fill="rgb(46,46,255)" />
<rect x="63.54" y="627.21" width="6.28" height="6.26" fill="rgb(255,31,31)" />
<rect x="69.82" y="627.21" width="6.28" height="6.26" fill="rgb(255,0,0)" />
<rect x="76.10" y="627.21" width="6.28" height="6.26" fill="rgb(255,41,41)" />
<rect x="44.70" y="633.47" width="6.28" height="6.26" fill="rgb(0,0,255)" />
<rect x="50.98" y="633.47" width="6.28" height="6.26" fill="rgb(0,0,255)" />
<rect x="57.26" y="633.47" width="6.28" height="6.26" fill="rgb(31,31,255)" />
<rect x="63.54" y="633.47" width="6.28" height="6.26" fill="rgb(255,31,31)" />
<rect x="69.82" y="633.47" width="6.28" height="6.26" fill="rgb(255,0,0)" />
<rect x="76.10" y="633.47" width="6.28" height="6.26" fill="rgb(255,71,71)" />
<rect x="44.70" y="639.74" width="6.28" height="6.26" fill="rgb(46,46,255)" />
<rect x="50.98" y="639.74" width="6.28" height="6.26" fill="rgb(41,41,255)" />
<rect x="57.26" y="639.74" width="6.28" height="6.26" fill="rgb(0,0,255)" />
<rect x="63.54" y="639.74" width="6.28" height="6.26" fill="rgb(255,71,71)" />
<rect x="69.82" y="639.74" width="6.28" height="6.26" fill="rgb(255,0,0)" />
<rect x="76.10" y="639.74" width="6.28" height="6.26" fill="rgb(255,31,31)" />
<rect x="44.70" y="646.00" width="6.28" height="6.26" fill="rgb(31,31,255)" />
<rect x="50.98" y="646.00" width="6.28" height="6.26" fill="rgb(0,0,255)" />
<rect x="57.26" y="646.00" width="6.28" height="6.26" fill="rgb(31,31,255)" />
<rect x="63.54" y="646.00" width="6.28" height="6.26" fill="rgb(255,0,0)" />
<rect x="69.82" y="646.00" width="6.28" height="6.26" fill="rgb(255,26,26)" />
<rect x="76.10" y="646.00" width="6.28" height="6.26" fill="rgb(255,46,46)" />
<rect x="44.70" y="652.27" width="6.28" height="6.26" fill="rgb(0,0,255)" />
<rect x="50.98" y="652.27" width="6.28" height="6.26" fill="rgb(128,128,255)" />
<rect x="57.26" y="652.27" width="6.28" height="6.26" fill="rgb(0,0,255)" />
<rect x="63.54" y="652.27" width="6.28" height="6.26" fill="rgb(255,64,64)" />
<rect x="69.82" y="652.27" width="6.28" height="6.26" fill="rgb(255,0,0)" />
<rect x="76.10" y="652.27" width="6.28" height="6.26" fill="rgb(255,191,191)" />
<rect x="44.70" y="658.53" width="6.28" height="6.26" fill="rgb(0,0,255)" />
<rect x="50.98" y="658.53" width="6.28" height="6.26" fill="rgb(31,31,255)" />
<rect x="57.26" y="658.53" width="6.28" height="6.26" fill="rgb(46,46,255)" />
<rect x="63.54" y="658.53" width="6.28" height="6.26" fill="rgb(255,56,56)" />
<rect x="69.82" y="658.53" width="6.28" height="6.26" fill="rgb(255,0,0)" />
<rect x="76.10" y="658.53" width="6.28" height="6.26" fill="rgb(255,46,46)" />
<rect x="44.70" y="664.80" width="6.28" height="6.26" fill="rgb(0,0,255)" />
<rect x="50.98" y="664.80" width="6.28" height="6.26" fill="rgb(31,31,255)" />
<rect x="57.26" y="664.80" width="6.28" height="6.26" fill="rgb(0,0,255)" />
<rect x="63.54" y="664.80" width="6.28" height="6.26" fill="rgb(255,26,26)" />
<rect x="69.82" y="664.80" width="6.28" height="6.26" fill="rgb(255,15,15)" />
<rect x="76.10" y="664.80" width="6.28" height="6.26" fill="rgb(255,0,0)" />
<rect x="44.70" y="671.07" width="6.28" height="6.26" fill="rgb(0,0,255)" />
<rect x="50.98" y="671.07" width="6.28" height="6.26" fill="rgb(0,0,255)" />
<rect x="57.26" y="671.07" width="6.28" height="6.26" fill="rgb(0,0,255)" />
<rect x="63.54" y="671.07" width="6.28" height="6.26" fill="rgb(255,31,31)" />
<rect x="69.82" y="671.07" width="6.28" height="6.26" fill="rgb(255,0,0)" />
<rect x="76.10" y="671.07" width="6.28" height="6.26" fill="rgb(255,0,0)" />
<rect x="44.70" y="677.33" width="6.28" height="6.26" fill="rgb(0,0,255)" />
<rect x="50.98" y="677.33" width="6.28" height="6.26" fill="rgb(31,31,255)" />
<rect x="57.26" y="677.33" width="6.28" height="6.26" fill="rgb(0,0,255)" />
<rect x="63.54" y="677.33" width="6.28" height="6.26" fill="rgb(255,82,82)" />
<rect x="69.82" y="677.33" width="6.28" height="6.26" fill="rgb(255,0,0)" />
<rect x="76.10" y="677.33" width="6.28" height="6.26" fill="rgb(255,0,0)" />
<path d="M50.98 414.20V683.60 M57.26 414.20V683.60 M63.54 414.20V683.60 M69.82 414.20V683.60 M76.10 414.20V683.60 M44.70 420.46H82.38 M44.70 426.73H82.38 M44.70 433.00H82.38 M44.70 439.26H82.38 M44.70 445.52H82.38 M44.70 451.79H82.38 M44.70 458.06H82.38 M44.70 464.32H82.38 M44.70 470.58H82.38 M44.70 476.85H82.38 M44.70 483.12H82.38 M44.70 489.38H82.38 M44.70 495.64H82.38 M44.70 501.91H82.38 M44.70 508.17H82.38 M44.70 514.44H82.38 M44.70 520.70H82.38 M44.70 526.97H82.38 M44.70 533.24H82.38 M44.70 539.50H82.38 M44.70 545.76H82.38 M44.70 552.03H82.38 M44.70 558.29H82.38 M44.70 564.56H82.38 M44.70 570.83H82.38 M44.70 577.09H82.38 M44.70 583.36H82.38 M44.70 589.62H82.38 M44.70 595.88H82.38 M44.70 602.15H82.38 M44.70 608.41H82.38 M44.70 614.68H82.38 M44.70 620.94H82.38 M44.70 627.21H82.38 M44.70 633.47H82.38 M44.70 639.74H82.38 M44.70 646.00H82.38 M44.70 652.27H82.38 M44.70 658.53H82.38 M44.70 664.80H82.38 M44.70 671.07H82.38 M44.70 677.33H82.38" stroke="#fff" stroke-opacity="0.62" stroke-width="0.95" fill="none"/>
<g transform="translate(84.6,0) scale(0.9,1) translate(-84.6,0)">
<text x="84.60" y="419.10" font-size="7.0" text-anchor="start" fill="#1a1a1a">Ccl12</text>
<text x="84.60" y="425.40" font-size="7.0" text-anchor="start" fill="#1a1a1a">Ccr3</text>
<text x="84.60" y="431.69" font-size="7.0" text-anchor="start" fill="#1a1a1a">Plcb2</text>
<text x="84.60" y="437.99" font-size="7.0" text-anchor="start" fill="#1a1a1a">Cxcl10</text>
<text x="84.60" y="444.28" font-size="7.0" text-anchor="start" fill="#1a1a1a">Cx3cr1</text>
<text x="84.60" y="450.58" font-size="7.0" text-anchor="start" fill="#1a1a1a">Ccl22</text>
<text x="84.60" y="456.88" font-size="7.0" text-anchor="start" fill="#1a1a1a">Pik3r6</text>
<text x="84.60" y="463.17" font-size="7.0" text-anchor="start" fill="#1a1a1a">Ccl9</text>
<text x="84.60" y="469.47" font-size="7.0" text-anchor="start" fill="#1a1a1a">Cxcr3</text>
<text x="84.60" y="475.76" font-size="7.0" text-anchor="start" fill="#1a1a1a">Arrb1</text>
<text x="84.60" y="482.06" font-size="7.0" text-anchor="start" fill="#1a1a1a">Adcy7</text>
<text x="84.60" y="488.36" font-size="7.0" text-anchor="start" fill="#1a1a1a">Xcr1</text>
<text x="84.60" y="494.65" font-size="7.0" text-anchor="start" fill="#1a1a1a">Prkcb</text>
<text x="84.60" y="500.95" font-size="7.0" text-anchor="start" fill="#1a1a1a">Ncf1</text>
<text x="84.60" y="507.24" font-size="7.0" text-anchor="start" fill="#1a1a1a">Gsn</text>
<text x="84.60" y="513.54" font-size="7.0" text-anchor="start" fill="#1a1a1a">Pik3cd</text>
<text x="84.60" y="519.84" font-size="7.0" text-anchor="start" fill="#1a1a1a">Pak1</text>
<text x="84.60" y="526.13" font-size="7.0" text-anchor="start" fill="#1a1a1a">Dock2</text>
<text x="84.60" y="532.43" font-size="7.0" text-anchor="start" fill="#1a1a1a">Ccl5</text>
<text x="84.60" y="538.72" font-size="7.0" text-anchor="start" fill="#1a1a1a">Nod1</text>
<text x="84.60" y="545.02" font-size="7.0" text-anchor="start" fill="#1a1a1a">Ccl8</text>
<text x="84.60" y="551.32" font-size="7.0" text-anchor="start" fill="#1a1a1a">Casp1</text>
<text x="84.60" y="557.61" font-size="7.0" text-anchor="start" fill="#1a1a1a">Il18</text>
<text x="84.60" y="563.91" font-size="7.0" text-anchor="start" fill="#1a1a1a">Ccl2</text>
<text x="84.60" y="570.20" font-size="7.0" text-anchor="start" fill="#1a1a1a">Ccl7</text>
<text x="84.60" y="576.50" font-size="7.0" text-anchor="start" fill="#1a1a1a">Pycard</text>
<text x="84.60" y="582.80" font-size="7.0" text-anchor="start" fill="#1a1a1a">Card9</text>
<text x="84.60" y="589.09" font-size="7.0" text-anchor="start" fill="#1a1a1a">Casp8</text>
<text x="84.60" y="595.39" font-size="7.0" text-anchor="start" fill="#1a1a1a">Il1b</text>
<text x="84.60" y="601.68" font-size="7.0" text-anchor="start" fill="#1a1a1a">Serpine2</text>
<text x="84.60" y="607.98" font-size="7.0" text-anchor="start" fill="#1a1a1a">Pdgfb</text>
<text x="84.60" y="614.28" font-size="7.0" text-anchor="start" fill="#1a1a1a">Ceacam1</text>
<text x="84.60" y="620.57" font-size="7.0" text-anchor="start" fill="#1a1a1a">Vwf</text>
<text x="84.60" y="626.87" font-size="7.0" text-anchor="start" fill="#1a1a1a">Mertk</text>
<text x="84.60" y="633.16" font-size="7.0" text-anchor="start" fill="#1a1a1a">Ptpn6</text>
<text x="84.60" y="639.46" font-size="7.0" text-anchor="start" fill="#1a1a1a">Cd4</text>
<text x="84.60" y="645.76" font-size="7.0" text-anchor="start" fill="#1a1a1a">Spn</text>
<text x="84.60" y="652.05" font-size="7.0" text-anchor="start" fill="#1a1a1a">Itga4</text>
<text x="84.60" y="658.35" font-size="7.0" text-anchor="start" fill="#1a1a1a">Icam2</text>
<text x="84.60" y="664.64" font-size="7.0" text-anchor="start" fill="#1a1a1a">Itga6</text>
<text x="84.60" y="670.94" font-size="7.0" text-anchor="start" fill="#1a1a1a">Itgal</text>
<text x="84.60" y="677.24" font-size="7.0" text-anchor="start" fill="#1a1a1a">Siglec1</text>
<text x="84.60" y="683.53" font-size="7.0" text-anchor="start" fill="#1a1a1a">Icam1</text>
</g>
<text x="54.20" y="411.10" font-size="8.7" text-anchor="middle" fill="#111" textLength="10.80" lengthAdjust="spacingAndGlyphs">WT</text>
<text x="72.20" y="411.10" font-size="8.7" text-anchor="middle" fill="#111" textLength="10.50" lengthAdjust="spacingAndGlyphs">KO</text>
<text x="72.9" y="402.6" font-size="8.5" text-anchor="middle" fill="#111" font-style="italic" textLength="13.6" lengthAdjust="spacingAndGlyphs">Tet2</text>
<path d="M121.6 414.20H125.9V487.40H121.6" stroke="#222" stroke-width="1.1" fill="none"/>
<text x="129.40" y="453.50" font-size="8.3" text-anchor="start" fill="#111" textLength="73.40" lengthAdjust="spacingAndGlyphs">Chemokine signaling</text>
<path d="M121.6 490.10H125.9V523.80H121.6" stroke="#222" stroke-width="1.1" fill="none"/>
<text x="129.40" y="505.40" font-size="8.3" text-anchor="start" fill="#111" textLength="73.20" lengthAdjust="spacingAndGlyphs">Fc gamma-mediated</text>
<text x="129.40" y="515.20" font-size="8.3" text-anchor="start" fill="#111" textLength="46.60" lengthAdjust="spacingAndGlyphs">phagocytosis</text>
<path d="M121.6 528.70H125.9V593.50H121.6" stroke="#222" stroke-width="1.1" fill="none"/>
<text x="129.40" y="558.90" font-size="8.3" text-anchor="start" fill="#111" textLength="65.80" lengthAdjust="spacingAndGlyphs">NOD-like receptor</text>
<text x="129.40" y="568.70" font-size="8.3" text-anchor="start" fill="#111" textLength="30.80" lengthAdjust="spacingAndGlyphs">signaling</text>
<path d="M121.6 596.40H125.9V629.60H121.6" stroke="#222" stroke-width="1.1" fill="none"/>
<text x="129.40" y="616.60" font-size="8.3" text-anchor="start" fill="#111" textLength="63.00" lengthAdjust="spacingAndGlyphs">Platelet activation</text>
<path d="M121.6 632.50H125.9V683.20H121.6" stroke="#222" stroke-width="1.1" fill="none"/>
<text x="129.40" y="660.80" font-size="8.3" text-anchor="start" fill="#111" textLength="47.00" lengthAdjust="spacingAndGlyphs">Cell adhesion</text>
<defs><linearGradient id="gr" x1="0" x2="1" y1="0" y2="0"><stop offset="0" stop-color="#0000ff"/><stop offset="0.5" stop-color="#ffffff"/><stop offset="1" stop-color="#ff0000"/></linearGradient></defs>
<rect x="19.50" y="694.20" width="88.00" height="5.00" fill="url(#gr)" />
<text x="5.00" y="707.30" font-size="8" text-anchor="start" fill="#111" textLength="28.20" lengthAdjust="spacingAndGlyphs">Row min</text>
<text x="93.80" y="707.30" font-size="8" text-anchor="start" fill="#111" textLength="29.40" lengthAdjust="spacingAndGlyphs">Row max</text>
<line x1="286.90" y1="241.50" x2="286.90" y2="342.10" stroke="#111" stroke-width="1.1" />
<line x1="286.90" y1="346.30" x2="286.90" y2="354.90" stroke="#111" stroke-width="1.1" />
<line x1="284.70" y1="342.10" x2="289.30" y2="342.10" stroke="#111" stroke-width="1.0" />
<line x1="284.70" y1="346.30" x2="289.30" y2="346.30" stroke="#111" stroke-width="1.0" />
<line x1="286.40" y1="354.40" x2="486.00" y2="354.40" stroke="#111" stroke-width="1.1" />
<line x1="283.50" y1="245.50" x2="286.90" y2="245.50" stroke="#111" stroke-width="1.0" />
<text x="281.00" y="248.25" font-size="8.5" text-anchor="end" fill="#111" textLength="12.60" lengthAdjust="spacingAndGlyphs">600</text>
<line x1="283.50" y1="277.30" x2="286.90" y2="277.30" stroke="#111" stroke-width="1.0" />
<text x="281.00" y="280.05" font-size="8.5" text-anchor="end" fill="#111" textLength="12.60" lengthAdjust="spacingAndGlyphs">400</text>
<line x1="283.50" y1="309.40" x2="286.90" y2="309.40" stroke="#111" stroke-width="1.0" />
<text x="281.00" y="312.15" font-size="8.5" text-anchor="end" fill="#111" textLength="12.60" lengthAdjust="spacingAndGlyphs">200</text>
<line x1="283.50" y1="345.50" x2="286.90" y2="345.50" stroke="#111" stroke-width="1.0" />
<text x="281.00" y="348.25" font-size="8.5" text-anchor="end" fill="#111" textLength="10.40" lengthAdjust="spacingAndGlyphs">1.5</text>
<line x1="283.50" y1="354.40" x2="286.90" y2="354.40" stroke="#111" stroke-width="1.0" />
<text x="281.00" y="357.15" font-size="8.5" text-anchor="end" fill="#111" textLength="10.40" lengthAdjust="spacingAndGlyphs">0.0</text>
<line x1="302.40" y1="354.40" x2="302.40" y2="357.40" stroke="#111" stroke-width="1.0" />
<ellipse cx="291.55" cy="354.00" rx="2.5" ry="1.3" fill="#c8102e"/>
<path d="M296.20 354.40A2.7 2.6 0 0 1 301.60 354.40Z" fill="#2fb24a"/>
<path d="M303.00 354.40A3.1 2.6 0 0 1 309.20 354.40Z" fill="#5a2d82"/>
<polygon points="310.60,351.83 313.20,351.83 311.90,354.17" fill="#1f5b98"/>
<polygon points="312.40,352.32 314.80,352.32 313.60,354.48" fill="#1f5b98"/>
<line x1="335.85" y1="354.40" x2="335.85" y2="357.40" stroke="#111" stroke-width="1.0" />
<ellipse cx="325.00" cy="354.00" rx="2.5" ry="1.3" fill="#c8102e"/>
<path d="M329.65 354.40A2.7 2.6 0 0 1 335.05 354.40Z" fill="#2fb24a"/>
<path d="M336.45 354.40A3.1 2.6 0 0 1 342.65 354.40Z" fill="#5a2d82"/>
<polygon points="344.05,351.83 346.65,351.83 345.35,354.17" fill="#1f5b98"/>
<polygon points="345.85,352.32 348.25,352.32 347.05,354.48" fill="#1f5b98"/>
<line x1="369.30" y1="354.40" x2="369.30" y2="357.40" stroke="#111" stroke-width="1.0" />
<rect x="356.05" y="346.20" width="4.80" height="8.20" fill="#dd8291" />
<rect x="363.40" y="346.20" width="4.80" height="8.20" fill="#9fd89f" />
<ellipse cx="358.45" cy="342.6" rx="2.5" ry="1.1" fill="#c8102e"/>
<ellipse cx="365.80" cy="342.0" rx="2.8" ry="1.3" fill="#2fb24a"/>
<path d="M369.90 354.40A3.1 2.6 0 0 1 376.10 354.40Z" fill="#5a2d82"/>
<polygon points="377.50,351.83 380.10,351.83 378.80,354.17" fill="#1f5b98"/>
<polygon points="379.30,352.32 381.70,352.32 380.50,354.48" fill="#1f5b98"/>
<line x1="402.75" y1="354.40" x2="402.75" y2="357.40" stroke="#111" stroke-width="1.0" />
<rect x="389.50" y="346.20" width="4.80" height="8.20" fill="#dd8291" />
<rect x="396.85" y="346.20" width="4.80" height="8.20" fill="#9fd89f" />
<rect x="389.50" y="336.20" width="4.80" height="5.70" fill="#dd8291" />
<rect x="396.85" y="325.50" width="4.80" height="16.40" fill="#9fd89f" />
<polygon points="389.95,336.91 392.85,336.91 391.40,334.30" fill="#c8102e"/>
<polygon points="390.95,338.31 393.85,338.31 392.40,335.69" fill="#c8102e"/>
<polygon points="390.45,339.31 393.35,339.31 391.90,336.69" fill="#c8102e"/>
<circle cx="398.25" cy="324.60" r="1.40" fill="#2fb24a"/>
<circle cx="400.45" cy="326.00" r="1.40" fill="#2fb24a"/>
<circle cx="399.25" cy="327.00" r="1.40" fill="#2fb24a"/>
<path d="M403.35 354.40A3.1 2.6 0 0 1 409.55 354.40Z" fill="#5a2d82"/>
<polygon points="410.95,351.83 413.55,351.83 412.25,354.17" fill="#1f5b98"/>
<polygon points="412.75,352.32 415.15,352.32 413.95,354.48" fill="#1f5b98"/>
<line x1="436.20" y1="354.40" x2="436.20" y2="357.40" stroke="#111" stroke-width="1.0" />
<rect x="422.95" y="346.20" width="4.80" height="8.20" fill="#dd8291" />
<rect x="430.30" y="346.20" width="4.80" height="8.20" fill="#9fd89f" />
<rect x="422.95" y="306.90" width="4.80" height="35.00" fill="#dd8291" />
<rect x="430.30" y="279.00" width="4.80" height="62.90" fill="#9fd89f" />
<line x1="432.70" y1="277.90" x2="432.70" y2="284.10" stroke="#555" stroke-width="0.8" />
<polygon points="422.90,307.70 425.80,307.70 424.35,305.09" fill="#c8102e"/>
<polygon points="424.90,307.70 427.80,307.70 426.35,305.09" fill="#c8102e"/>
<polygon points="423.90,310.70 426.80,310.70 425.35,308.09" fill="#c8102e"/>
<circle cx="431.70" cy="277.90" r="1.40" fill="#2fb24a"/>
<circle cx="434.10" cy="278.60" r="1.40" fill="#2fb24a"/>
<circle cx="432.70" cy="284.10" r="1.40" fill="#2fb24a"/>
<path d="M436.80 354.40A3.1 2.6 0 0 1 443.00 354.40Z" fill="#5a2d82"/>
<rect x="444.60" y="348.00" width="3.80" height="6.40" fill="#8fb0d4" />
<polygon points="444.80,347.43 447.40,347.43 446.10,349.77" fill="#1f5b98"/>
<polygon points="445.90,348.92 448.30,348.92 447.10,351.08" fill="#1f5b98"/>
<line x1="469.65" y1="354.40" x2="469.65" y2="357.40" stroke="#111" stroke-width="1.0" />
<rect x="456.40" y="346.20" width="4.80" height="8.20" fill="#dd8291" />
<rect x="463.75" y="346.20" width="4.80" height="8.20" fill="#9fd89f" />
<rect x="456.40" y="299.50" width="4.80" height="42.40" fill="#dd8291" />
<rect x="463.75" y="267.50" width="4.80" height="74.40" fill="#9fd89f" />
<line x1="458.80" y1="297.80" x2="458.80" y2="301.00" stroke="#333" stroke-width="0.7" />
<line x1="466.15" y1="259.10" x2="466.15" y2="267.30" stroke="#555" stroke-width="0.8" />
<polygon points="457.55,299.11 460.45,299.11 459.00,296.50" fill="#c8102e"/>
<polygon points="457.05,302.31 459.95,302.31 458.50,299.69" fill="#c8102e"/>
<circle cx="466.15" cy="259.10" r="1.40" fill="#2fb24a"/>
<circle cx="464.55" cy="267.30" r="1.40" fill="#2fb24a"/>
<circle cx="467.75" cy="267.30" r="1.40" fill="#2fb24a"/>
<path d="M470.25 354.40A3.1 2.6 0 0 1 476.45 354.40Z" fill="#5a2d82"/>
<rect x="478.05" y="346.20" width="3.80" height="8.20" fill="#8fb0d4" />
<polygon points="478.25,345.63 480.85,345.63 479.55,347.97" fill="#1f5b98"/>
<polygon points="479.35,347.12 481.75,347.12 480.55,349.28" fill="#1f5b98"/>
<text x="302.40" y="367.10" font-size="8.5" text-anchor="middle" fill="#111">–</text>
<text x="302.40" y="380.80" font-size="8.5" text-anchor="middle" fill="#111">–</text>
<text x="335.85" y="367.10" font-size="8.5" text-anchor="middle" fill="#111">+</text>
<text x="335.85" y="380.80" font-size="8.5" text-anchor="middle" fill="#111">–</text>
<text x="369.30" y="367.10" font-size="8.5" text-anchor="middle" fill="#111">+</text>
<text x="369.30" y="380.80" font-size="8.5" text-anchor="middle" fill="#111">50</text>
<text x="402.75" y="367.10" font-size="8.5" text-anchor="middle" fill="#111">+</text>
<text x="402.75" y="380.80" font-size="8.5" text-anchor="middle" fill="#111">100</text>
<text x="436.20" y="367.10" font-size="8.5" text-anchor="middle" fill="#111">+</text>
<text x="436.20" y="380.80" font-size="8.5" text-anchor="middle" fill="#111">200</text>
<text x="469.65" y="367.10" font-size="8.5" text-anchor="middle" fill="#111">+</text>
<text x="469.65" y="380.80" font-size="8.5" text-anchor="middle" fill="#111">300</text>
<text x="281.20" y="367.00" font-size="8.6" text-anchor="end" fill="#111" textLength="48.20" lengthAdjust="spacingAndGlyphs">LPS [1 ng/mL]</text>
<text x="281.2" y="380.6" font-size="8.6" text-anchor="end" fill="#111" textLength="46.1" lengthAdjust="spacingAndGlyphs">MSU [μg/mL]</text>
<text x="363.20" y="332.00" font-size="7.4" text-anchor="middle" fill="#111">ns</text>
<line x1="358.00" y1="334.30" x2="368.20" y2="334.30" stroke="#111" stroke-width="1.1" />
<text x="396.50" y="315.30" font-size="7.7" text-anchor="middle" fill="#111" textLength="26.10" lengthAdjust="spacingAndGlyphs"><tspan font-style="italic">P</tspan>&lt;0.001</text>
<line x1="392.00" y1="318.50" x2="402.00" y2="318.50" stroke="#111" stroke-width="1.1" />
<text x="430.30" y="268.90" font-size="7.7" text-anchor="middle" fill="#111" textLength="26.90" lengthAdjust="spacingAndGlyphs"><tspan font-style="italic">P</tspan>&lt;0.001</text>
<line x1="425.40" y1="271.50" x2="436.20" y2="271.50" stroke="#111" stroke-width="1.1" />
<text x="464.00" y="250.90" font-size="7.7" text-anchor="middle" fill="#111" textLength="26.00" lengthAdjust="spacingAndGlyphs"><tspan font-style="italic">P</tspan>&lt;0.001</text>
<line x1="459.20" y1="253.50" x2="469.20" y2="253.50" stroke="#111" stroke-width="1.1" />
<polygon points="295.10,245.74 300.30,245.74 297.70,241.06" fill="#c8102e"/>
<text x="303.8" y="246.1" font-size="7.4" fill="#111" textLength="11.2" lengthAdjust="spacingAndGlyphs">WT</text>
<circle cx="297.60" cy="253.30" r="2.75" fill="#2fb24a"/>
<text x="304.4" y="255.9" font-size="7.4" fill="#111" textLength="26.4" lengthAdjust="spacingAndGlyphs"><tspan font-style="italic">Tet2</tspan> KO</text>
<polygon points="297.60,259.50 301.10,263.00 297.60,266.50 294.10,263.00" fill="#5a2d82"/>
<text x="303.8" y="265.6" font-size="7.4" fill="#111" textLength="31.4" lengthAdjust="spacingAndGlyphs"><tspan font-style="italic">Nlrp3</tspan> KO</text>
<polygon points="295.10,270.16 300.30,270.16 297.70,274.84" fill="#1f5b98"/>
<text x="303.8" y="275.0" font-size="7.4" fill="#111" textLength="63.5" lengthAdjust="spacingAndGlyphs"><tspan font-style="italic">Nlrp3</tspan> KO+<tspan font-style="italic">Tet2</tspan> KO</text>
<text transform="translate(261.8,297.4) rotate(-90)" font-size="8.8" text-anchor="middle" fill="#111" textLength="49" lengthAdjust="spacingAndGlyphs">IL-1B (pg ml<tspan font-size="6.2" dy="-3.2">−1</tspan><tspan dy="3.2">)</tspan></text>
<line x1="287.60" y1="465.00" x2="287.60" y2="572.90" stroke="#111" stroke-width="1.1" />
<line x1="287.10" y1="572.40" x2="513.00" y2="572.40" stroke="#111" stroke-width="1.1" />
<line x1="284.30" y1="572.40" x2="287.60" y2="572.40" stroke="#111" stroke-width="1.0" />
<text x="281.30" y="575.15" font-size="8.5" text-anchor="end" fill="#111" textLength="4.20" lengthAdjust="spacingAndGlyphs">0</text>
<line x1="284.30" y1="520.60" x2="287.60" y2="520.60" stroke="#111" stroke-width="1.0" />
<text x="281.30" y="523.35" font-size="8.5" text-anchor="end" fill="#111" textLength="8.40" lengthAdjust="spacingAndGlyphs">50</text>
<line x1="284.30" y1="468.80" x2="287.60" y2="468.80" stroke="#111" stroke-width="1.0" />
<text x="281.30" y="471.55" font-size="8.5" text-anchor="end" fill="#111" textLength="12.60" lengthAdjust="spacingAndGlyphs">100</text>
<polygon points="290.50,573.55 293.50,573.55 292.00,570.85" fill="#c8102e"/>
<polygon points="292.50,572.35 295.50,572.35 294.00,569.65" fill="#c8102e"/>
<polygon points="294.50,573.55 297.50,573.55 296.00,570.85" fill="#c8102e"/>
<circle cx="304.40" cy="571.40" r="1.35" fill="#2fb24a"/>
<circle cx="306.40" cy="571.10" r="1.35" fill="#2fb24a"/>
<circle cx="308.40" cy="571.40" r="1.35" fill="#2fb24a"/>
<line x1="294.00" y1="572.40" x2="294.00" y2="575.40" stroke="#111" stroke-width="0.9" />
<line x1="306.40" y1="572.40" x2="306.40" y2="575.40" stroke="#111" stroke-width="0.9" />
<line x1="294.00" y1="578.80" x2="306.40" y2="578.80" stroke="#6a6a6a" stroke-width="1.5" />
<polygon points="315.50,573.55 318.50,573.55 317.00,570.85" fill="#c8102e"/>
<polygon points="317.50,572.35 320.50,572.35 319.00,569.65" fill="#c8102e"/>
<polygon points="319.50,573.55 322.50,573.55 321.00,570.85" fill="#c8102e"/>
<circle cx="329.40" cy="570.70" r="1.35" fill="#2fb24a"/>
<circle cx="331.40" cy="570.40" r="1.35" fill="#2fb24a"/>
<circle cx="333.40" cy="570.70" r="1.35" fill="#2fb24a"/>
<line x1="319.00" y1="572.40" x2="319.00" y2="575.40" stroke="#111" stroke-width="0.9" />
<line x1="331.40" y1="572.40" x2="331.40" y2="575.40" stroke="#111" stroke-width="0.9" />
<line x1="319.00" y1="578.80" x2="331.40" y2="578.80" stroke="#6a6a6a" stroke-width="1.5" />
<rect x="340.55" y="556.20" width="6.90" height="16.20" fill="#dd8291" />
<rect x="352.95" y="479.20" width="6.90" height="93.20" fill="#9fd89f" />
<line x1="356.40" y1="476.00" x2="356.40" y2="480.00" stroke="#333" stroke-width="0.8" />
<line x1="355.20" y1="476.00" x2="357.60" y2="476.00" stroke="#333" stroke-width="0.7" />
<line x1="355.20" y1="480.00" x2="357.60" y2="480.00" stroke="#333" stroke-width="0.7" />
<polygon points="340.50,558.25 343.50,558.25 342.00,555.55" fill="#c8102e"/>
<polygon points="342.50,557.05 345.50,557.05 344.00,554.35" fill="#c8102e"/>
<polygon points="344.50,558.25 347.50,558.25 346.00,555.55" fill="#c8102e"/>
<circle cx="356.40" cy="476.00" r="1.40" fill="#2fb24a"/>
<circle cx="353.80" cy="480.20" r="1.40" fill="#2fb24a"/>
<circle cx="359.40" cy="478.80" r="1.40" fill="#2fb24a"/>
<line x1="344.00" y1="572.40" x2="344.00" y2="575.40" stroke="#111" stroke-width="0.9" />
<line x1="356.40" y1="572.40" x2="356.40" y2="575.40" stroke="#111" stroke-width="0.9" />
<line x1="344.00" y1="578.80" x2="356.40" y2="578.80" stroke="#6a6a6a" stroke-width="1.5" />
<rect x="365.55" y="553.20" width="6.90" height="19.20" fill="#dd8291" />
<rect x="377.95" y="495.80" width="6.90" height="76.60" fill="#9fd89f" />
<line x1="381.40" y1="494.60" x2="381.40" y2="499.90" stroke="#333" stroke-width="0.8" />
<line x1="380.20" y1="494.60" x2="382.60" y2="494.60" stroke="#333" stroke-width="0.7" />
<line x1="380.20" y1="499.90" x2="382.60" y2="499.90" stroke="#333" stroke-width="0.7" />
<polygon points="365.50,555.25 368.50,555.25 367.00,552.55" fill="#c8102e"/>
<polygon points="367.50,554.05 370.50,554.05 369.00,551.35" fill="#c8102e"/>
<polygon points="369.50,555.25 372.50,555.25 371.00,552.55" fill="#c8102e"/>
<circle cx="378.40" cy="494.60" r="1.40" fill="#2fb24a"/>
<circle cx="384.00" cy="495.30" r="1.40" fill="#2fb24a"/>
<circle cx="381.10" cy="499.90" r="1.40" fill="#2fb24a"/>
<line x1="369.00" y1="572.40" x2="369.00" y2="575.40" stroke="#111" stroke-width="0.9" />
<line x1="381.40" y1="572.40" x2="381.40" y2="575.40" stroke="#111" stroke-width="0.9" />
<line x1="369.00" y1="578.80" x2="381.40" y2="578.80" stroke="#6a6a6a" stroke-width="1.5" />
<rect x="390.55" y="556.20" width="6.90" height="16.20" fill="#dd8291" />
<rect x="402.95" y="485.40" width="6.90" height="87.00" fill="#9fd89f" />
<line x1="406.40" y1="480.20" x2="406.40" y2="491.40" stroke="#333" stroke-width="0.8" />
<line x1="405.20" y1="480.20" x2="407.60" y2="480.20" stroke="#333" stroke-width="0.7" />
<line x1="405.20" y1="491.40" x2="407.60" y2="491.40" stroke="#333" stroke-width="0.7" />
<polygon points="390.50,558.25 393.50,558.25 392.00,555.55" fill="#c8102e"/>
<polygon points="392.50,557.05 395.50,557.05 394.00,554.35" fill="#c8102e"/>
<polygon points="394.50,558.25 397.50,558.25 396.00,555.55" fill="#c8102e"/>
<circle cx="406.40" cy="480.60" r="1.40" fill="#2fb24a"/>
<circle cx="406.40" cy="482.00" r="1.40" fill="#2fb24a"/>
<circle cx="406.40" cy="491.00" r="1.40" fill="#2fb24a"/>
<line x1="394.00" y1="572.40" x2="394.00" y2="575.40" stroke="#111" stroke-width="0.9" />
<line x1="406.40" y1="572.40" x2="406.40" y2="575.40" stroke="#111" stroke-width="0.9" />
<line x1="394.00" y1="578.80" x2="406.40" y2="578.80" stroke="#6a6a6a" stroke-width="1.5" />
<rect x="415.55" y="555.50" width="6.90" height="16.90" fill="#dd8291" />
<rect x="427.95" y="503.40" width="6.90" height="69.00" fill="#9fd89f" />
<line x1="419.00" y1="553.50" x2="419.00" y2="558.00" stroke="#333" stroke-width="0.7" />
<line x1="431.40" y1="499.90" x2="431.40" y2="505.20" stroke="#333" stroke-width="0.8" />
<line x1="430.20" y1="499.90" x2="432.60" y2="499.90" stroke="#333" stroke-width="0.7" />
<line x1="430.20" y1="505.20" x2="432.60" y2="505.20" stroke="#333" stroke-width="0.7" />
<polygon points="415.50,557.55 418.50,557.55 417.00,554.85" fill="#c8102e"/>
<polygon points="417.50,556.35 420.50,556.35 419.00,553.65" fill="#c8102e"/>
<polygon points="419.50,557.55 422.50,557.55 421.00,554.85" fill="#c8102e"/>
<circle cx="431.40" cy="499.90" r="1.40" fill="#2fb24a"/>
<circle cx="431.40" cy="503.00" r="1.40" fill="#2fb24a"/>
<circle cx="431.40" cy="505.20" r="1.40" fill="#2fb24a"/>
<line x1="419.00" y1="572.40" x2="419.00" y2="575.40" stroke="#111" stroke-width="0.9" />
<line x1="431.40" y1="572.40" x2="431.40" y2="575.40" stroke="#111" stroke-width="0.9" />
<line x1="419.00" y1="578.80" x2="431.40" y2="578.80" stroke="#6a6a6a" stroke-width="1.5" />
<rect x="440.55" y="567.70" width="6.90" height="4.70" fill="#dd8291" />
<rect x="452.95" y="557.30" width="6.90" height="15.10" fill="#9fd89f" />
<polygon points="440.50,569.75 443.50,569.75 442.00,567.05" fill="#c8102e"/>
<polygon points="442.50,568.55 445.50,568.55 444.00,565.85" fill="#c8102e"/>
<polygon points="444.50,569.75 447.50,569.75 446.00,567.05" fill="#c8102e"/>
<circle cx="454.40" cy="557.60" r="1.35" fill="#2fb24a"/>
<circle cx="456.40" cy="557.30" r="1.35" fill="#2fb24a"/>
<circle cx="458.40" cy="557.60" r="1.35" fill="#2fb24a"/>
<line x1="444.00" y1="572.40" x2="444.00" y2="575.40" stroke="#111" stroke-width="0.9" />
<line x1="456.40" y1="572.40" x2="456.40" y2="575.40" stroke="#111" stroke-width="0.9" />
<line x1="444.00" y1="578.80" x2="456.40" y2="578.80" stroke="#6a6a6a" stroke-width="1.5" />
<polygon points="465.50,573.55 468.50,573.55 467.00,570.85" fill="#c8102e"/>
<polygon points="467.50,572.35 470.50,572.35 469.00,569.65" fill="#c8102e"/>
<polygon points="469.50,573.55 472.50,573.55 471.00,570.85" fill="#c8102e"/>
<circle cx="479.40" cy="570.70" r="1.35" fill="#2fb24a"/>
<circle cx="481.40" cy="570.40" r="1.35" fill="#2fb24a"/>
<circle cx="483.40" cy="570.70" r="1.35" fill="#2fb24a"/>
<line x1="469.00" y1="572.40" x2="469.00" y2="575.40" stroke="#111" stroke-width="0.9" />
<line x1="481.40" y1="572.40" x2="481.40" y2="575.40" stroke="#111" stroke-width="0.9" />
<line x1="469.00" y1="578.80" x2="481.40" y2="578.80" stroke="#6a6a6a" stroke-width="1.5" />
<polygon points="490.50,573.55 493.50,573.55 492.00,570.85" fill="#c8102e"/>
<polygon points="492.50,572.35 495.50,572.35 494.00,569.65" fill="#c8102e"/>
<polygon points="494.50,573.55 497.50,573.55 496.00,570.85" fill="#c8102e"/>
<circle cx="504.40" cy="570.70" r="1.35" fill="#2fb24a"/>
<circle cx="506.40" cy="570.40" r="1.35" fill="#2fb24a"/>
<circle cx="508.40" cy="570.70" r="1.35" fill="#2fb24a"/>
<line x1="494.00" y1="572.40" x2="494.00" y2="575.40" stroke="#111" stroke-width="0.9" />
<line x1="506.40" y1="572.40" x2="506.40" y2="575.40" stroke="#111" stroke-width="0.9" />
<line x1="494.00" y1="578.80" x2="506.40" y2="578.80" stroke="#6a6a6a" stroke-width="1.5" />
<text x="301.10" y="589.20" font-size="8.2" text-anchor="middle" fill="#111" textLength="16.80" lengthAdjust="spacingAndGlyphs">Untr.</text>
<text x="326.20" y="589.20" font-size="8.2" text-anchor="middle" fill="#111" textLength="12.90" lengthAdjust="spacingAndGlyphs">LPS</text>
<text transform="translate(353.80,584.20) rotate(-45)" font-size="8.1" text-anchor="end" fill="#111">LPS/MSU+DMSO</text>
<text transform="translate(378.80,584.20) rotate(-45)" font-size="8.1" text-anchor="end" fill="#111">LPS/MSU+0.001 μM MCC950</text>
<text transform="translate(403.80,584.20) rotate(-45)" font-size="8.1" text-anchor="end" fill="#111">LPS/MSU+0.01 μM MCC950</text>
<text transform="translate(428.80,584.20) rotate(-45)" font-size="8.1" text-anchor="end" fill="#111">LPS/MSU+0.1 μM MCC950</text>
<text transform="translate(453.80,584.20) rotate(-45)" font-size="8.1" text-anchor="end" fill="#111">LPS/MSU+1 μM MCC950</text>
<text transform="translate(478.80,584.20) rotate(-45)" font-size="8.1" text-anchor="end" fill="#111">LPS/MSU+10 μM MCC950</text>
<text transform="translate(503.80,584.20) rotate(-45)" font-size="8.1" text-anchor="end" fill="#111">LPS/MSU+20 μM MCC950</text>
<text x="350.20" y="443.00" font-size="7.5" text-anchor="middle" fill="#111" textLength="30.80" lengthAdjust="spacingAndGlyphs"><tspan font-style="italic">P</tspan>&lt;0.0001</text>
<line x1="341.50" y1="445.70" x2="358.90" y2="445.70" stroke="#444" stroke-width="1.1" />
<text x="375.20" y="461.40" font-size="7.5" text-anchor="middle" fill="#111" textLength="30.80" lengthAdjust="spacingAndGlyphs"><tspan font-style="italic">P</tspan>&lt;0.0001</text>
<line x1="366.50" y1="463.90" x2="383.90" y2="463.90" stroke="#444" stroke-width="1.1" />
<text x="400.20" y="444.10" font-size="7.5" text-anchor="middle" fill="#111" textLength="30.80" lengthAdjust="spacingAndGlyphs"><tspan font-style="italic">P</tspan>&lt;0.0001</text>
<line x1="391.50" y1="446.60" x2="408.90" y2="446.60" stroke="#444" stroke-width="1.1" />
<text x="425.20" y="463.80" font-size="7.5" text-anchor="middle" fill="#111" textLength="30.80" lengthAdjust="spacingAndGlyphs"><tspan font-style="italic">P</tspan>&lt;0.0001</text>
<line x1="416.50" y1="466.20" x2="433.90" y2="466.20" stroke="#444" stroke-width="1.1" />
<text x="450.20" y="445.80" font-size="7.5" text-anchor="middle" fill="#111" textLength="30.80" lengthAdjust="spacingAndGlyphs"><tspan font-style="italic">P</tspan>&lt;0.0001</text>
<line x1="441.50" y1="448.00" x2="458.90" y2="448.00" stroke="#444" stroke-width="1.1" />
<text x="475.20" y="463.80" font-size="7.5" text-anchor="middle" fill="#111" textLength="22.60" lengthAdjust="spacingAndGlyphs"><tspan font-style="italic">P</tspan>&lt;0.01</text>
<line x1="466.50" y1="466.20" x2="483.90" y2="466.20" stroke="#444" stroke-width="1.1" />
<text x="500.40" y="447.10" font-size="7.5" text-anchor="middle" fill="#111" textLength="22.60" lengthAdjust="spacingAndGlyphs"><tspan font-style="italic">P</tspan>&lt;0.01</text>
<line x1="491.70" y1="449.20" x2="509.10" y2="449.20" stroke="#444" stroke-width="1.1" />
<polygon points="293.70,470.34 298.90,470.34 296.30,465.66" fill="#c8102e"/>
<text x="300.80" y="470.90" font-size="7.4" text-anchor="start" fill="#111" textLength="11.00" lengthAdjust="spacingAndGlyphs">WT</text>
<circle cx="296.20" cy="477.30" r="2.75" fill="#2fb24a"/>
<text x="300.8" y="480.0" font-size="7.4" fill="#111" textLength="26.5" lengthAdjust="spacingAndGlyphs"><tspan font-style="italic">Tet2</tspan> KO</text>
<text transform="translate(264.4,518.6) rotate(-90)" font-size="8.8" text-anchor="middle" fill="#111" textLength="49.7" lengthAdjust="spacingAndGlyphs">IL-1B (pg ml<tspan font-size="6.2" dy="-3.2">−1</tspan><tspan dy="3.2">)</tspan></text>
<rect x="0.5" y="0.5" width="519" height="713" fill="none" stroke="#000" stroke-width="1.2"/>
</svg>
</body></html>
